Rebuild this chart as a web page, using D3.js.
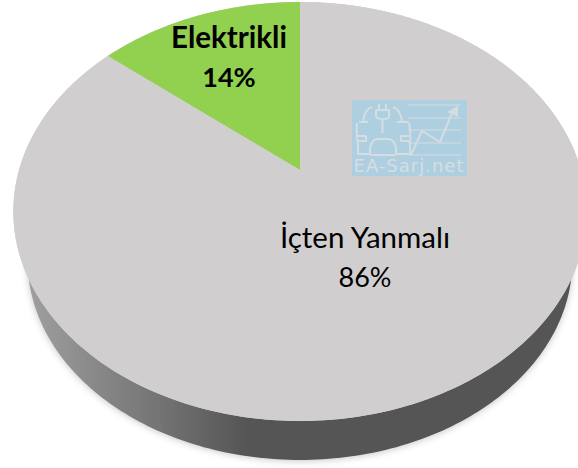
<!DOCTYPE html>
<html>
<head>
<meta charset="utf-8">
<script src="https://cdn.jsdelivr.net/npm/d3@7"></script>
<style>
  html, body { margin: 0; padding: 0; background: #fff; }
  svg { display: block; }
  text { font-family: Lato, "Open Sans", sans-serif; }
</style>
</head>
<body>
<div id="chart"></div>
<script>
// chart data
var categories = ["Elektrikli", "İçten Yanmalı"];
var values = [14, 86];
var valueLabels = ["14%", "86%"];
var sliceColors = ["#92d050", "#d0cecf"];

var svgWidth = 578;
var svgHeight = 468;

var svg = d3.select("#chart")
    .append("svg")
    .attr("width", svgWidth)
    .attr("height", svgHeight);

var defs = svg.append("defs");

var sideGradient = defs.append("linearGradient")
    .attr("id", "sideGradient")
    .attr("gradientUnits", "userSpaceOnUse")
    .attr("x1", 25).attr("x2", 250).attr("y1", 0).attr("y2", 0);
sideGradient.append("stop").attr("offset", "0%").attr("stop-color", "#a0a0a0");
sideGradient.append("stop").attr("offset", "60%").attr("stop-color", "#747373");
sideGradient.append("stop").attr("offset", "100%").attr("stop-color", "#545454");

var shadow = defs.append("filter")
    .attr("id", "softShadow")
    .attr("x", "-10%").attr("y", "-10%").attr("width", "120%").attr("height", "120%");
shadow.append("feDropShadow")
    .attr("dx", 0).attr("dy", 1)
    .attr("stdDeviation", 3.5)
    .attr("flood-color", "#000")
    .attr("flood-opacity", 0.22);

// the pie lies tilted away from the viewer: unit circle -> screen with perspective
var apexX = 300, apexY = 170;
var tiltK = 0.198, scaleX = 281, scaleY = 201.3;

function project(angle, r) {
    var u = r * Math.sin(angle);
    var v = r * Math.cos(angle);
    var w = 1 + tiltK * v;
    return [apexX + scaleX * u / w, apexY - scaleY * v / w];
}

// d3.pie gives the angles, Elektrikli ends at twelve o'clock
var total = d3.sum(values);
var startAngle = -2 * Math.PI * values[0] / total;
var pie = d3.pie()
    .sort(null)
    .startAngle(startAngle)
    .endAngle(startAngle + 2 * Math.PI);
var slices = pie(values);

var line = d3.line();

function slicePath(d) {
    var steps = Math.max(4, Math.ceil((d.endAngle - d.startAngle) * 60));
    var angle = d3.scaleLinear().domain([0, steps]).range([d.startAngle, d.endAngle]);
    var pts = d3.range(steps + 1).map(function(i) { return project(angle(i), 1); });
    return line([[apexX, apexY]].concat(pts)) + "Z";
}

// side wall: face outline scaled down and dropped to give the lower rim
var rimScale = 0.95, rimBottom = 460;
var faceAngles = d3.range(0, 361).map(function(a) { return a * Math.PI / 180; });
var facePts = faceAngles.map(function(a) { return project(a, 1); });
var faceBottom = d3.max(facePts, function(p) { return p[1]; });
var faceCx = (d3.min(facePts, function(p) { return p[0]; }) + d3.max(facePts, function(p) { return p[0]; })) / 2;
var rimPts = facePts.map(function(p) {
    return [faceCx + (p[0] - faceCx) * rimScale, rimBottom + (p[1] - faceBottom) * rimScale];
});

svg.append("path")
    .attr("d", line(rimPts) + "Z")
    .attr("fill", "url(#sideGradient)")
    .attr("filter", "url(#softShadow)");

svg.append("path")
    .attr("d", line(facePts) + "Z")
    .attr("fill", sliceColors[1]);

svg.selectAll("path.slice")
    .data(slices)
    .enter()
    .append("path")
    .attr("class", "slice")
    .attr("d", slicePath)
    .attr("fill", function(d, i) { return sliceColors[i]; });

// labels
var labelPos = [{ x: 229, y1: 48, y2: 87, weight: 700 }, { x: 365, y1: 248, y2: 287, weight: 400 }];

labelPos.forEach(function(p, i) {
    svg.append("text")
        .attr("x", p.x).attr("y", p.y1)
        .attr("text-anchor", "middle")
        .attr("font-size", 29.5)
        .attr("font-weight", p.weight)
        .attr("fill", "#000")
        .text(categories[i]);
    svg.append("text")
        .attr("x", p.x).attr("y", p.y2)
        .attr("text-anchor", "middle")
        .attr("font-size", 27)
        .attr("font-weight", p.weight)
        .attr("fill", "#000")
        .text(valueLabels[i]);
});

// watermark
var mark = svg.append("g");
var markLine = "#d3dde2";

mark.append("rect")
    .attr("x", 352).attr("y", 100)
    .attr("width", 115).attr("height", 76)
    .attr("fill", "#aecfe0");

mark.selectAll("line")
    .data([105, 118, 130, 143, 155])
    .enter()
    .append("line")
    .attr("x1", 408).attr("x2", 461)
    .attr("y1", function(d) { return d; }).attr("y2", function(d) { return d; })
    .attr("stroke", markLine)
    .attr("stroke-width", 1.2);

var icon = mark.append("g")
    .attr("fill", "none")
    .attr("stroke", markLine)
    .attr("stroke-width", 2)
    .attr("stroke-linejoin", "round");

// trend arrow
icon.append("path").attr("d", "M411 155L422 131L440 142L452 113");
mark.append("path").attr("d", "M458 106L447 112L458 117Z").attr("fill", markLine);

// plug
icon.append("path").attr("d", "M379 104V110M386 104V110M376 110H389V116Q389 119 383 119Q376 119 376 116ZM382.500 119V133");
// car
icon.append("path").attr("d", "M372 107Q365 109 363 121M393 107Q400 109 402 121");
icon.append("path").attr("d", "M359 122H368M397 122H409");
icon.append("path").attr("d", "M357 123Q356 130 358 145V154H368L372 155H394L398 154H410V145Q411 130 409 123");
icon.append("path").attr("d", "M370 148Q372 139 378 139H388Q394 139 396 148V155M370 148V155");
icon.append("path").attr("d", "M358 136H366V141H358M409 136H401V141H409");

mark.append("text")
    .attr("x", 409).attr("y", 172)
    .attr("text-anchor", "middle")
    .style("font-family", "'DejaVu Sans'")
    .attr("font-size", 18)
    .attr("letter-spacing", 1)
    .attr("fill", "#d6dee3")
    .text("EA-Sarj.net");
</script>
</body>
</html>
